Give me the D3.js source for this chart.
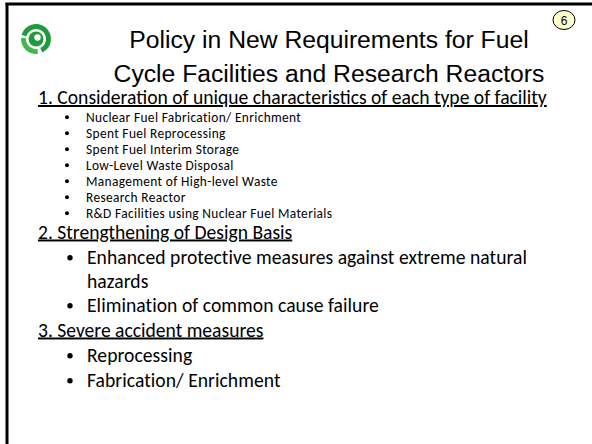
<!DOCTYPE html>
<html>
<head>
<meta charset="utf-8">
<script src="https://cdn.jsdelivr.net/npm/d3@7"></script>
<style>
  body { margin: 0; background: #fff; }
  svg { display: block; }
</style>
</head>
<body>
<div id="slide"></div>
<script>
// slide content
const titleLines = ["Policy in New Requirements for Fuel", "Cycle Facilities and Research Reactors"];
const pageNumber = "6";
const headings = [
  "1. Consideration of unique characteristics of each type of facility",
  "2. Strengthening of Design Basis",
  "3. Severe accident measures"
];
const facilityTypes = [
  "Nuclear Fuel Fabrication/ Enrichment",
  "Spent Fuel Reprocessing",
  "Spent Fuel Interim Storage",
  "Low-Level Waste Disposal",
  "Management of High-level Waste",
  "Research Reactor",
  "R&D Facilities using Nuclear Fuel Materials"
];
const designBasis = [
  ["Enhanced protective measures against extreme natural", "hazards"],
  ["Elimination of common cause failure"]
];
const severeAccident = ["Reprocessing", "Fabrication/ Enrichment"];

const width = 592;
const height = 444;
const bodyFont = "Carlito, Calibri, 'Open Sans', sans-serif";

const svg = d3
  .select("#slide")
  .append("svg")
  .attr("width", width)
  .attr("height", height);

// frame: left and top rule only
svg.append("line")
  .attr("x1", 7).attr("x2", 7).attr("y1", 3).attr("y2", height)
  .attr("stroke", "#000").attr("stroke-width", 3);
svg.append("line")
  .attr("x1", 5.5).attr("x2", width).attr("y1", 4).attr("y2", 4)
  .attr("stroke", "#000").attr("stroke-width", 3);

// logo
const logo = svg.append("g").attr("transform", "translate(36,39)");
const ring = d3.arc().innerRadius(10).outerRadius(15);
logo.append("path")
  .attr("d", ring({ startAngle: -1.3, endAngle: 2.7 }))
  .attr("fill", "#1f9a3c");
logo.append("path")
  .attr("d", ring({ startAngle: 3.0, endAngle: 4.8 }))
  .attr("fill", "#45b552");
logo.append("circle").attr("cx", 0).attr("cy", 0).attr("r", 7.5).attr("fill", "#1f9a3c");
logo.append("circle").attr("cx", 1.5).attr("cy", -1.5).attr("r", 3.2).attr("fill", "#fff");

// title
const titleY = d3.scalePoint().domain(d3.range(titleLines.length)).range([48, 82]);
svg.selectAll(".title")
  .data(titleLines)
  .enter()
  .append("text")
  .attr("class", "title")
  .attr("x", 329)
  .attr("y", (d, i) => titleY(i))
  .attr("text-anchor", "middle")
  .style("font-family", "'Liberation Sans', Arial, sans-serif")
  .style("font-size", "24.7px")
  .attr("fill", "#000")
  .text((d) => d);

// page number badge
svg.append("ellipse")
  .attr("cx", 564).attr("cy", 20).attr("rx", 11).attr("ry", 9.5)
  .attr("fill", "#ffffcc").attr("stroke", "#000").attr("stroke-width", 1);
svg.append("text")
  .attr("x", 564).attr("y", 24.5)
  .attr("text-anchor", "middle")
  .style("font-family", "'Liberation Sans', Arial, sans-serif")
  .style("font-size", "12px")
  .text(pageNumber);

// body rows: build a flat list of lines
const rows = [];
rows.push({ kind: "head", text: headings[0], gap: 0 });
facilityTypes.forEach((t, k) => rows.push({ kind: "small", text: t, bullet: true, gap: k === 0 ? 17.5 : 16 }));
rows.push({ kind: "head", text: headings[1], gap: 21 });
designBasis.forEach((item, j) => {
  item.forEach((t, k) => rows.push({ kind: "big", text: t, bullet: k === 0, gap: j === 0 && k === 0 ? 25.5 : 24 }));
});
rows.push({ kind: "head", text: headings[2], gap: 24.5 });
severeAccident.forEach((t, k) => rows.push({ kind: "big", text: t, bullet: true, gap: k === 0 ? 25.5 : 25 }));

let y = 104;
rows.forEach((r) => { y += r.gap; r.y = y; });

const style = {
  head: { x: 38, size: 19.6, ls: 0 },
  small: { x: 86, bx: 67, size: 13.4, ls: 0.35 },
  big: { x: 87, bx: 70, size: 19.6, ls: 0.05 }
};

const body = svg.append("g");
body.selectAll("text")
  .data(rows)
  .enter()
  .append("text")
  .attr("x", (d) => style[d.kind].x)
  .attr("y", (d) => d.y)
  .style("font-family", bodyFont)
  .style("font-size", (d) => style[d.kind].size + "px")
  .style("letter-spacing", (d) => style[d.kind].ls + "px")
  .style("text-decoration", (d) => (d.kind === "head" ? "underline" : null))
  .attr("fill", "#000")
  .text((d) => d.text);

body.selectAll("circle")
  .data(rows.filter((d) => d.bullet))
  .enter()
  .append("circle")
  .attr("cx", (d) => style[d.kind].bx)
  .attr("cy", (d) => d.y - style[d.kind].size * 0.32)
  .attr("r", (d) => (d.kind === "big" ? 2.7 : 2.0))
  .attr("fill", "#000");
</script>
</body>
</html>
